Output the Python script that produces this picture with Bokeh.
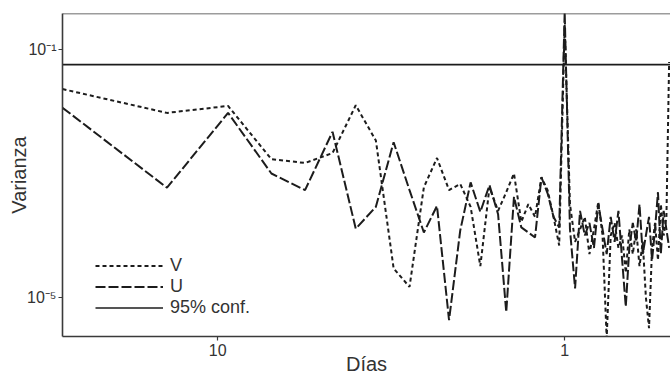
from bokeh.plotting import figure
from bokeh.models import (Range1d, FixedTicker, CustomJSTickFormatter, Span,
                          Legend, LegendItem, ColumnDataSource)
from bokeh.embed import file_html
from bokeh.resources import INLINE

# ---- data -----------------------------------------------------------------
registro_dias = 28.0                      # length of record (days)
armonico = list(range(1, 57))             # harmonic index k
dias = [registro_dias / k for k in armonico]   # period (days)

varianza_v = [
    2.3e-2, 9.5e-3, 1.23e-2, 1.7e-3, 1.48e-3, 2.14e-3, 1.26e-2, 3.4e-3,
    2.95e-5, 1.48e-5, 6.0e-4, 1.78e-3, 5.4e-4, 6.8e-4, 2.9e-4, 3.2e-5,
    6.0e-4, 2.5e-4, 5.0e-4, 1.0e-3, 1.66e-4, 3.2e-4, 2.0e-4, 8.7e-4,
    5.4e-4, 2.0e-4, 6.9e-5, 2.5e-1,
    3.2e-4, 7.9e-5, 1.26e-4, 2.0e-4, 5.0e-5, 1.26e-4, 3.5e-4, 1.0e-4,
    2.2e-6, 1.0e-4, 1.6e-4, 6.3e-5, 1.0e-4, 2.5e-5, 1.26e-4, 5.0e-5,
    1.26e-4, 3.2e-5, 7.9e-5, 1.0e-5, 3.2e-6, 6.3e-5, 1.6e-4, 4.0e-5,
    3.2e-4, 1.0e-4, 2.0e-4, 6.3e-2,
]
varianza_u = [
    1.15e-2, 5.9e-4, 9.5e-3, 1.0e-3, 5.4e-4, 4.7e-3, 1.29e-4, 2.9e-4,
    3.2e-3, 5.4e-4, 1.12e-4, 3.0e-4, 4.3e-6, 1.2e-4, 7.2e-4, 2.4e-4,
    6.5e-4, 2.2e-4, 5.8e-6, 4.2e-4, 1.35e-4, 1.12e-4, 9.3e-5, 8.7e-4,
    4.8e-4, 2.0e-4, 1.35e-4, 4.0e-1,
    1.26e-4, 1.4e-5, 2.5e-4, 1.0e-4, 1.6e-4, 6.3e-5, 3.2e-4, 1.26e-4,
    5.0e-5, 2.0e-4, 7.9e-5, 2.5e-4, 4.0e-5, 7.1e-6, 6.3e-5, 1.6e-4,
    7.9e-5, 3.2e-4, 5.0e-5, 1.0e-4, 2.0e-4, 4.0e-5, 1.26e-4, 5.0e-4,
    5.0e-5, 2.5e-4, 1.26e-4, 6.3e-5,
]
conf_95 = 0.057

x_ticks = [10, 1]
y_ticks = [1e-1, 1e-5]
x_lim = (28.0, 0.4955)
y_lim = (2.35e-6, 0.381)

# ---- figure ---------------------------------------------------------------
FONT = "Liberation Sans"
INK = "#1c1c1c"
AX = "#3a3a3a"

p = figure(width=670, height=377, x_axis_type="log", y_axis_type="log",
           x_range=Range1d(*x_lim), y_range=Range1d(*y_lim),
           output_backend="svg", toolbar_location=None,
           min_border_left=62, min_border_right=0,
           min_border_top=13, min_border_bottom=41,
           background_fill_color="white", border_fill_color="white")
p.outline_line_color = None
p.xgrid.visible = False
p.ygrid.visible = False

src = ColumnDataSource(dict(dias=dias, v=varianza_v, u=varianza_u))
rv = p.line("dias", "v", source=src, line_color=INK, line_width=2,
            line_dash="4 3")
ru = p.line("dias", "u", source=src, line_color=INK, line_width=2,
            line_dash="10 3")
rc = p.line(x=list(x_lim), y=[conf_95, conf_95], line_color=INK,
            line_width=1.6)

p.add_layout(Span(location=y_lim[1], dimension="width", line_color=AX,
                  line_width=1.6))

for ax in (p.xaxis[0], p.yaxis[0]):
    ax.axis_line_color = AX
    ax.axis_line_width = 1.6
    ax.major_tick_line_color = AX
    ax.major_tick_line_width = 1.2
    ax.major_tick_out = 4
    ax.major_tick_in = 0
    ax.minor_tick_out = 0
    ax.minor_tick_in = 0
    ax.major_label_text_font = FONT
    ax.major_label_text_font_size = "16px"
    ax.major_label_text_color = "#333333"
    ax.axis_label_text_font = FONT
    ax.axis_label_text_font_size = "20px"
    ax.axis_label_text_font_style = "normal"
    ax.axis_label_text_color = "#333333"

p.xaxis[0].ticker = FixedTicker(ticks=x_ticks)
p.xaxis[0].formatter = CustomJSTickFormatter(code="return String(Math.round(tick));")
p.xaxis[0].major_label_standoff = 3
p.xaxis[0].axis_label = "Días"
p.xaxis[0].axis_label_standoff = -6

p.yaxis[0].ticker = FixedTicker(ticks=y_ticks)
p.yaxis[0].formatter = CustomJSTickFormatter(
    code="return tick > 0.01 ? '10\u207b\u00b9' : '10\u207b\u2075';")
p.yaxis[0].major_label_standoff = 2
p.yaxis[0].axis_label = "Varianza"
p.yaxis[0].axis_label_standoff = -6

legend = Legend(items=[LegendItem(label="V", renderers=[rv]),
                       LegendItem(label="U", renderers=[ru]),
                       LegendItem(label="95% conf.", renderers=[rc])],
                location=(33, 18), padding=0, margin=0, spacing=-1,
                glyph_width=68, glyph_height=19, label_height=19,
                label_standoff=7, background_fill_alpha=0,
                border_line_color=None, label_text_font=FONT,
                label_text_font_size="18px", label_text_line_height=1.0,
                label_text_color="#333333")
p.add_layout(legend)

open("out.html", "w").write(file_html(p, INLINE))
